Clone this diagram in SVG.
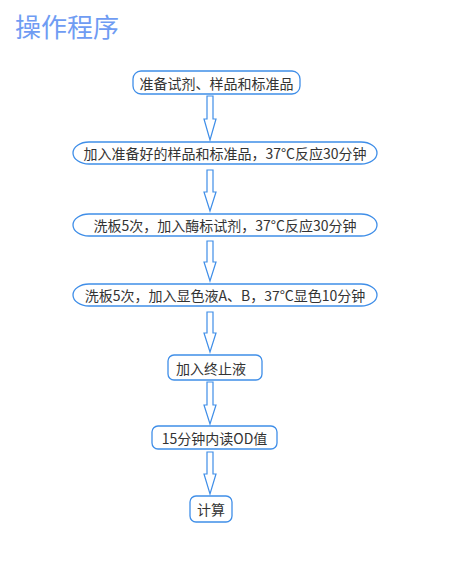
<svg xmlns="http://www.w3.org/2000/svg" width="458" height="569" viewBox="0 0 458 569">
<style>
.title{font-family:"Noto Sans CJK SC","Noto Sans",sans-serif;font-size:26px;fill:#6f9cf3;}
.box{fill:#fff;stroke:#3f8ee8;stroke-width:1.3;}
.lbl{font-family:"Noto Sans CJK SC","Noto Sans",sans-serif;font-size:14px;fill:#333;text-anchor:middle;dominant-baseline:central;}
.arr{fill:#fff;stroke:#3f8ee8;stroke-width:1.2;stroke-linejoin:miter;}
</style>
<rect width="458" height="569" fill="#fff"/>
<text class="title" x="15" y="37">操作程序</text>
<g id="connectors">
<path class="arr" d="M207,96 H213 V119 H216 L210,140 L204,119 H207 Z"/>
<path class="arr" d="M207,170 H213 V192 H216 L210,211 L204,192 H207 Z"/>
<path class="arr" d="M207,241 H213 V262 H216 L210,281 L204,262 H207 Z"/>
<path class="arr" d="M207,312 H213 V333 H216 L210,352 L204,333 H207 Z"/>
<path class="arr" d="M207,382 H213 V405 H216 L210,424 L204,405 H207 Z"/>
<path class="arr" d="M207,452 H213 V474 H216 L210,494 L204,474 H207 Z"/>
</g>
<g id="n1"><rect class="box" x="133" y="71" width="167" height="23" rx="8"/><text class="lbl" x="216.5" y="82.5">准备试剂、样品和标准品</text></g>
<g id="n2"><rect class="box" x="73" y="142" width="304" height="22" rx="16" ry="11"/><text class="lbl" x="225" y="153">加入准备好的样品和标准品，37°C反应30分钟</text></g>
<g id="n3"><rect class="box" x="73" y="214" width="304" height="22" rx="16" ry="11"/><text class="lbl" x="225" y="225">洗板5次，加入酶标试剂，37°C反应30分钟</text></g>
<g id="n4"><rect class="box" x="73" y="284" width="304" height="22" rx="16" ry="11"/><text class="lbl" x="225" y="295">洗板5次，加入显色液A、B，37°C显色10分钟</text></g>
<g id="n5"><rect class="box" x="168" y="355" width="94" height="25" rx="6"/><text class="lbl" x="211" y="367.5">加入终止液</text></g>
<g id="n6"><rect class="box" x="152" y="426" width="125" height="23" rx="6"/><text class="lbl" x="214.5" y="437.5">15分钟内读OD值</text></g>
<g id="n7"><rect class="box" x="190" y="496" width="42" height="26" rx="6"/><text class="lbl" x="211" y="509">计算</text></g>
</svg>
